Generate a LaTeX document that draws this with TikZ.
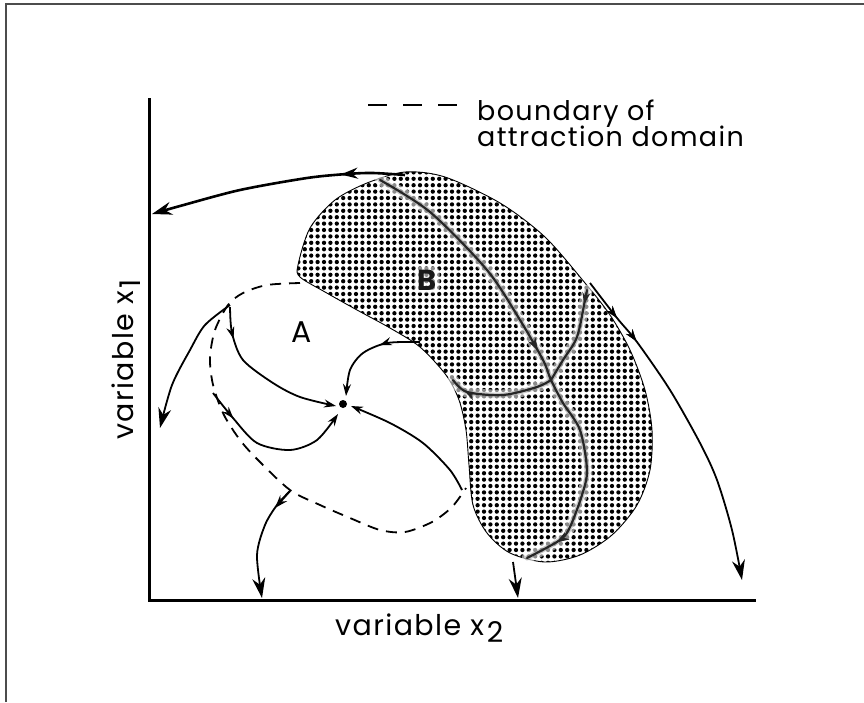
\documentclass[tikz,border=0pt]{standalone}
\usepackage{fontspec}
\setmainfont{Poppins}[LetterSpace=5]
\usetikzlibrary{arrows.meta,decorations.markings}
\newcommand\lowsub[1]{\kern3pt\raisebox{-7pt}{#1}}
\begin{document}
\begin{tikzpicture}[x=1pt,y=-1pt,
  traj/.style={line width=1.8pt},
  bigtip/.style={-{Stealth[length=20pt,width=13pt]}},
  smalltip/.style={-{Stealth[length=12pt,width=8pt]}},
  midarrow/.style={postaction=decorate,decoration={markings,mark=at position #1 with {\arrow{Stealth[length=12pt,width=8pt]}}}},
  bigmid/.style={postaction=decorate,decoration={markings,mark=at position #1 with {\arrow{Stealth[length=17pt,width=11pt]}}}},
  lab/.style={font=\fontsize{27}{29}\selectfont, inner sep=0pt},
  axlab/.style={font=\fontsize{28.5}{30}\selectfont, inner sep=0pt},
  bound/.style={line width=1.8pt, dash pattern=on 11pt off 8pt},
  glow/.style={line width=11pt, white, opacity=0.55, line cap=round},
  glowb/.style={line width=5pt, black!45, opacity=0.45, line cap=round},
  sep/.style={line width=2.2pt, black!85, line cap=round}
]
\useasboundingbox (0,0) rectangle (864,702);
\fill[white] (0,0) rectangle (864,702);
\draw[line width=1.2pt, black!70] (6,702) -- (6,4) -- (864,4);

% region B (dotted)
\begin{scope}
\clip plot[smooth cycle] coordinates {(298,265) (310,228) (335,200) (367,183) (405,172) (445,177) (500,203) (545,237) (585,283) (610,315) (630,350) (645,390) (652,430) (650,470) (637,505) (612,535) (580,555) (545,562) (510,553) (487,533) (473,505) (469,465) (466,430) (459,400) (446,375) (420,347) (390,328) (357,310) (325,292) (300,277)};
\foreach \j in {0,...,63} {
  \fill \foreach \i in {0,...,59} {(292+\i*6.4, 166+\j*6.4) circle (2.15)};
}
\end{scope}
\draw[line width=0.9pt] plot[smooth cycle] coordinates {(298,265) (310,228) (335,200) (367,183) (405,172) (445,177) (500,203) (545,237) (585,283) (610,315) (630,350) (645,390) (652,430) (650,470) (637,505) (612,535) (580,555) (545,562) (510,553) (487,533) (473,505) (469,465) (466,430) (459,400) (446,375) (420,347) (390,328) (357,310) (325,292) (300,277)};

% separatrices inside B
\coordinate (saddle) at (551,380);
\foreach \s in {glow,glowb} {
\draw[\s] plot[smooth] coordinates {(380,180) (430,212) (487,270) (520,320) (543,360) (551,380) (563,403) (580,430) (587,470) (582,495) (570,527) (560,540) (527,558)};
\draw[\s] plot[smooth] coordinates {(587,290) (585,300) (577,337) (563,360) (551,380)};
\draw[\s] plot[smooth] coordinates {(551,380) (537,387) (503,395) (467,392) (453,380)};
}
\draw[sep, midarrow=0.49, midarrow=0.93] plot[smooth] coordinates {(380,180) (430,212) (487,270) (520,320) (543,360) (551,380) (563,403) (580,430) (587,470) (582,495) (570,527) (560,540) (527,558)};
\draw[sep, midarrow=0.15] plot[smooth] coordinates {(587,290) (585,300) (577,337) (563,360) (551,380)};
\draw[sep, midarrow=0.85] plot[smooth] coordinates {(551,380) (537,387) (503,395) (467,392) (453,380)};
\node[font=\fontsize{29}{29}\selectfont\bfseries, text=black!90, fill=white, fill opacity=0.55, text opacity=1, inner sep=3pt, rounded corners=5pt] (Blab) at (427,280) {B};

% boundary of A (dashed)
\draw[bound] plot[smooth] coordinates {(300,283) (267,285) (243,293) (228,305) (215,330) (210,357) (212,380) (217,398) (225,417) (240,440) (258,460) (290,490) (320,505) (350,518) (380,530) (405,532) (432,522) (452,507) (466,488)};
\node[font=\fontsize{30}{30}\selectfont, inner sep=0pt] (Alab) at (302,332) {A};

% sink
\node[circle, fill, inner sep=0pt, minimum size=8pt] (sink) at (343,404) {};

% trajectories inside A
\draw[traj, smalltip, midarrow=0.2] plot[smooth] coordinates {(230,307) (232,333) (243,360) (273,383) (300,397) (336,406)};
\draw[traj, smalltip, midarrow=0.2] plot[smooth] coordinates {(213,393) (233,418) (257,443) (290,450) (317,440) (338,414)};
\draw[traj, smalltip, midarrow=0.38] plot[smooth] coordinates {(420,342) (387,343) (363,353) (350,370) (346,396)};
\draw[traj, smalltip] plot[smooth] coordinates {(462,490) (450,470) (423,443) (390,423) (351,406)};

% trajectories outside
\draw[line width=2.6pt, bigtip, bigmid=0.25] plot[smooth] coordinates {(405,175) (373,173) (347,174) (307,178) (240,190) (180,206) (152,214)};
\draw[traj, bigtip, midarrow=0.13, midarrow=0.22] plot[smooth] coordinates {(590,283) (617,318) (637,342) (670,390) (700,443) (717,480) (732,530) (742,580)};
\draw[traj, bigtip] (513,562) -- (518,598);
\draw[traj, bigtip] plot[smooth] coordinates {(290,491) (277,505) (265,525) (257,555) (262,598)};
\draw[traj, -{Stealth[length=13pt,width=9pt]}] (290,491) -- (275,508);
\draw[traj, bigtip] plot[smooth] coordinates {(230,305) (205,325) (190,350) (172,385) (160,428)};

% axes
\draw[line width=3pt] (149,98) -- (149,600) -- (756,600);
\node[axlab, anchor=base west] (xlab) at (335,635) {variable x\lowsub{2}};
\node[axlab, anchor=base west, rotate=90] (ylab) at (133,440) {variable x\lowsub{1}};

% legend
\draw[line width=2pt, dash pattern=on 19pt off 16pt] (368,105) -- (457,105);
\node[lab, anchor=base west] (leg1) at (477,120) {boundary of};
\node[lab, anchor=base west] (leg2) at (477,146) {attraction domain};
\end{tikzpicture}
\end{document}
